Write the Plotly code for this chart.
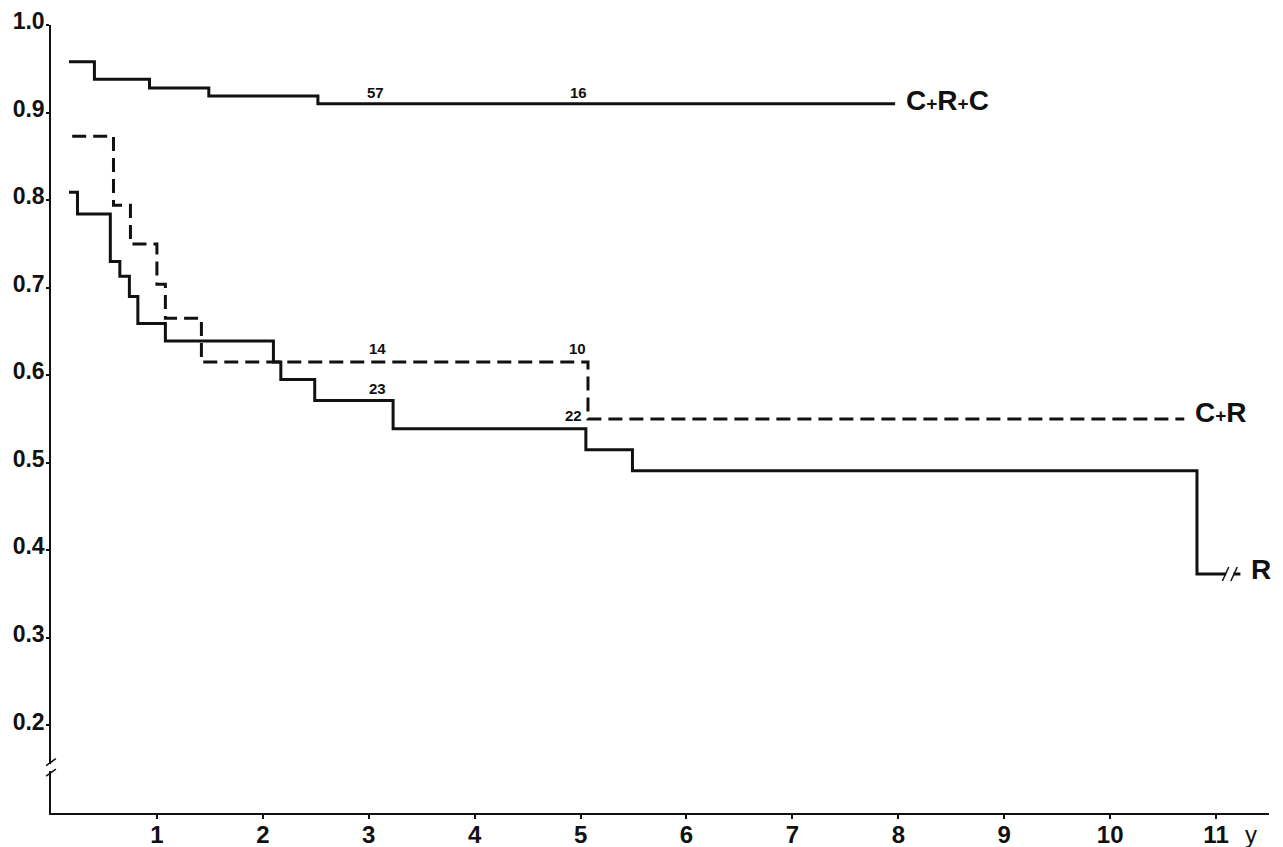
import plotly.graph_objects as go

# ---- data ----
crc_t = [0.17, 0.41, 0.93, 1.49, 2.52, 7.97]
crc_s = [0.958, 0.938, 0.928, 0.919, 0.910, 0.910]

cr_t = [0.20, 0.59, 0.75, 1.00, 1.08, 1.42, 5.07, 10.70]
cr_s = [0.873, 0.794, 0.750, 0.704, 0.665, 0.615, 0.550, 0.550]

r_t = [0.17, 0.25, 0.56, 0.65, 0.74, 0.82, 1.08, 2.10, 2.17, 2.49, 3.23, 5.05, 5.49, 10.82, 11.23]
r_s = [0.809, 0.784, 0.730, 0.713, 0.690, 0.659, 0.639, 0.615, 0.595, 0.571, 0.539, 0.515, 0.491, 0.373, 0.373]

# numbers at risk
risk_text = ["57", "16", "14", "10", "23", "22"]
risk_x = [3.06, 4.98, 3.08, 4.97, 3.08, 4.93]
risk_y = [0.923, 0.923, 0.630, 0.630, 0.585, 0.554]

x_ticks = list(range(1, 12))
y_ticks = [0.2, 0.3, 0.4, 0.5, 0.6, 0.7, 0.8, 0.9, 1.0]
y_tick_text = ["0.2", "0.3", "0.4", "0.5", "0.6", "0.7", "0.8", "0.9", "1.0"]

X_RANGE = [0, 11.5]
Y_RANGE = [0.1, 1.0]
Y_BREAK = 0.152
R_BREAK = 11.13

FONT = "Liberation Sans, Arial, Helvetica, sans-serif"
INK = "#111111"

fig = go.Figure()
fig.add_trace(go.Scatter(x=crc_t, y=crc_s, mode="lines", line=dict(shape="hv", color=INK, width=3),
                         showlegend=False, hoverinfo="skip"))
fig.add_trace(go.Scatter(x=cr_t, y=cr_s, mode="lines", line=dict(shape="hv", color=INK, width=3, dash="14px,7px"),
                         showlegend=False, hoverinfo="skip"))
fig.add_trace(go.Scatter(x=r_t, y=r_s, mode="lines", line=dict(shape="hv", color=INK, width=3),
                         showlegend=False, hoverinfo="skip"))

annotations = []
for t, x, y in zip(risk_text, risk_x, risk_y):
    annotations.append(dict(x=x, y=y, xref="x", yref="y", text=t, showarrow=False,
                            font=dict(family=FONT, size=15, color=INK, weight=600)))

plus = "<span style='font-size:19px'>+</span>"
end_labels = [("C" + plus + "R" + plus + "C", crc_t[-1], crc_s[-1], 3),
              ("C" + plus + "R", cr_t[-1], cr_s[-1], 7),
              ("R", r_t[-1], r_s[-1], 4)]
for txt, x, y, dy in end_labels:
    annotations.append(dict(x=x, y=y, xref="x", yref="y", text=txt, showarrow=False,
                            xanchor="left", yanchor="middle", xshift=9, yshift=dy,
                            font=dict(family=FONT, size=28, color=INK, weight="bold")))

annotations.append(dict(x=11.33, y=-0.027, xref="x", yref="paper", text="y", showarrow=False,
                        xanchor="center", yanchor="middle",
                        font=dict(family=FONT, size=24, color=INK)))

# axis break marks (paper coordinates derived from axis ranges)
def py(v):
    return (v - Y_RANGE[0]) / (Y_RANGE[1] - Y_RANGE[0])

shapes = [
    dict(type="rect", xref="paper", yref="paper", x0=-0.004, x1=0.004,
         y0=py(Y_BREAK - 0.004), y1=py(Y_BREAK + 0.004), fillcolor="white", line=dict(width=0)),
    dict(type="line", xref="paper", yref="paper", x0=-0.004, x1=0.004,
         y0=py(Y_BREAK + 0.002), y1=py(Y_BREAK + 0.010), line=dict(color=INK, width=1.5)),
    dict(type="line", xref="paper", yref="paper", x0=-0.004, x1=0.004,
         y0=py(Y_BREAK - 0.010), y1=py(Y_BREAK - 0.002), line=dict(color=INK, width=1.5)),
    dict(type="rect", xref="x", yref="y", x0=R_BREAK - 0.035, x1=R_BREAK + 0.035,
         y0=r_s[-1] - 0.006, y1=r_s[-1] + 0.006, fillcolor="white", line=dict(width=0)),
    dict(type="line", xref="x", yref="y", x0=R_BREAK - 0.07, x1=R_BREAK - 0.01,
         y0=r_s[-1] - 0.008, y1=r_s[-1] + 0.008, line=dict(color=INK, width=1.5)),
    dict(type="line", xref="x", yref="y", x0=R_BREAK + 0.01, x1=R_BREAK + 0.07,
         y0=r_s[-1] - 0.008, y1=r_s[-1] + 0.008, line=dict(color=INK, width=1.5)),
]

# page body has an 8px default margin, so the figure is sized/offset to compensate
fig.update_layout(
    width=1275, height=839,
    margin=dict(l=43, r=14, t=17, b=34, autoexpand=False),
    paper_bgcolor="white", plot_bgcolor="white",
    showlegend=False,
    annotations=annotations,
    shapes=shapes,
    xaxis=dict(range=X_RANGE, tickvals=x_ticks, ticktext=[str(v) for v in x_ticks],
               showgrid=False, zeroline=False, showline=True, linecolor=INK, linewidth=2,
               ticks="outside", ticklen=4, tickwidth=1.5, tickcolor=INK, automargin=False,
               ticklabelstandoff=-5, ticklabeloverflow="allow",
               tickfont=dict(family=FONT, size=24, color=INK, weight="bold"),
               fixedrange=True),
    yaxis=dict(range=Y_RANGE, tickvals=y_ticks, ticktext=y_tick_text,
               showgrid=False, zeroline=False, showline=True, linecolor=INK, linewidth=1.5,
               ticks="outside", ticklen=3, tickwidth=1.5, tickcolor=INK, automargin=False,
               ticklabelshift=-4, ticklabelstandoff=-3, ticklabeloverflow="allow",
               tickfont=dict(family=FONT, size=23, color=INK, weight="bold"),
               fixedrange=True),
)

fig.write_html("out.html")
